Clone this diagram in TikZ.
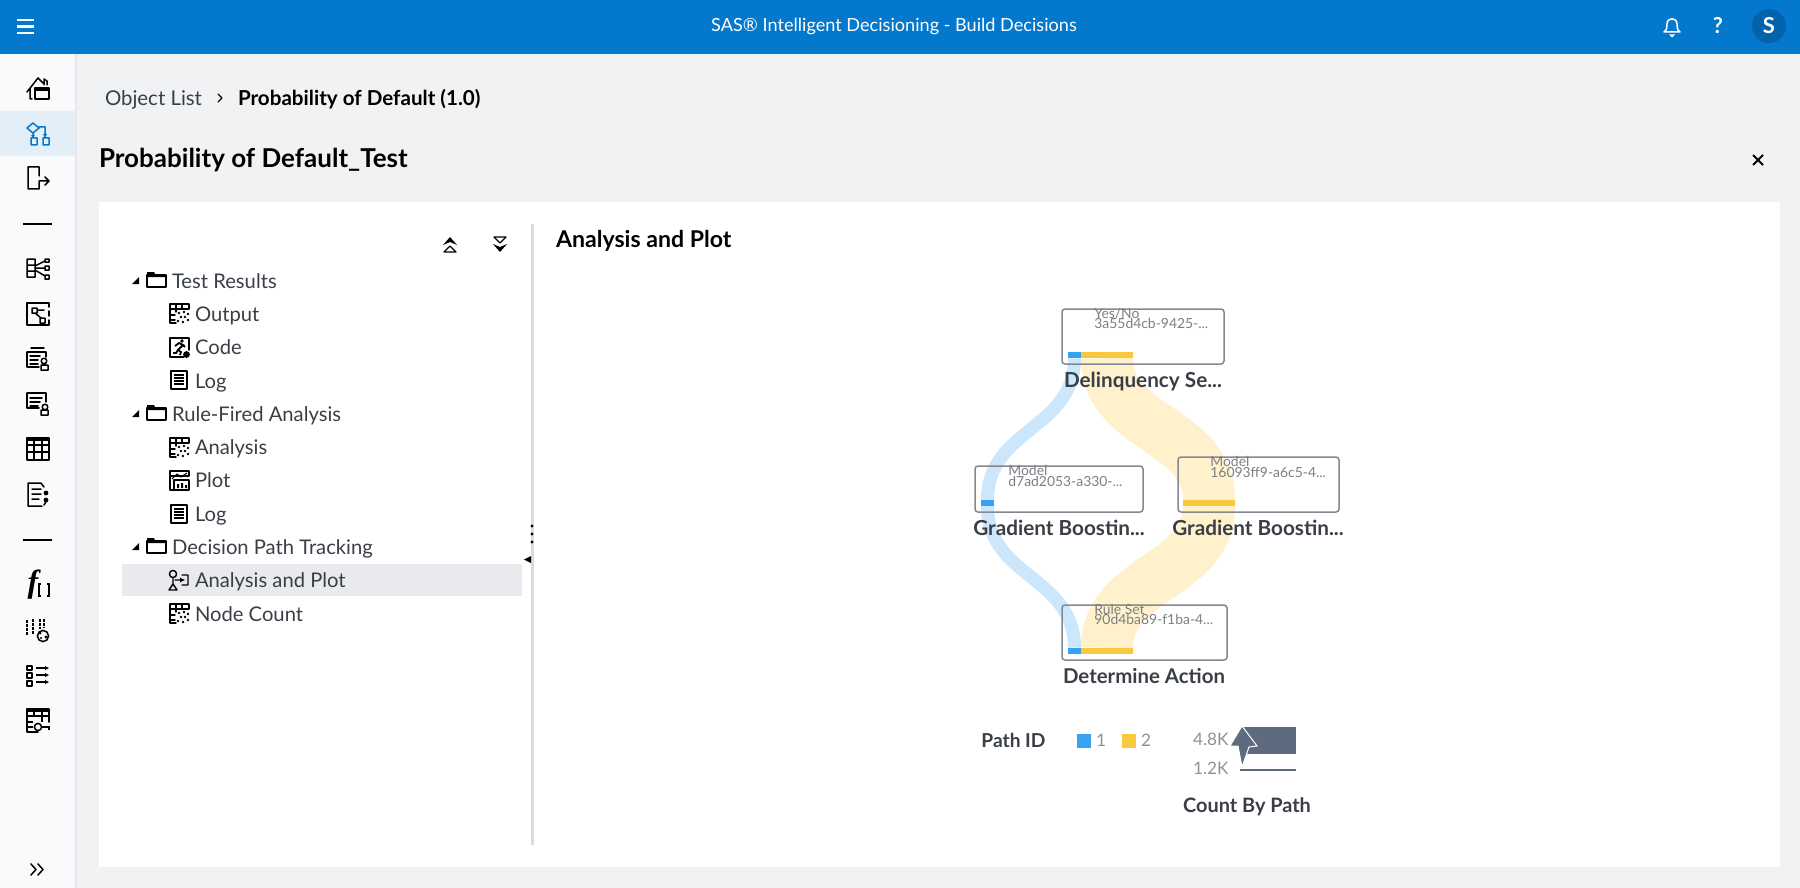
\documentclass[tikz,border=0pt]{standalone}
\usepackage{fontspec}
\setmainfont{Lato}
\usetikzlibrary{calc,arrows.meta}
\definecolor{topblue}{HTML}{0378CD}
\definecolor{avatar}{HTML}{0262AC}
\definecolor{pagebg}{HTML}{F1F2F4}
\definecolor{sidebg}{HTML}{F9FAFC}
\definecolor{sideline}{HTML}{E6E8EB}
\definecolor{sidesel}{HTML}{E3EEF6}
\definecolor{rowsel}{HTML}{E8EAED}
\definecolor{split}{HTML}{D9DBDF}
\definecolor{ink}{HTML}{3A3F47}
\definecolor{softgrey}{HTML}{7C7F85}
\definecolor{legendgrey}{HTML}{8E9196}
\definecolor{boxline}{HTML}{85888D}
\definecolor{pblue}{HTML}{35A2F2}
\definecolor{pyellow}{HTML}{F9C83F}
\definecolor{lblue}{HTML}{CCE7FC}
\definecolor{lyellow}{HTML}{FEF1CB}
\definecolor{slate}{HTML}{5E6B7E}
\tikzset{
  x=0.5pt,y=-0.5pt,
  txt/.style={inner sep=0pt,outer sep=0pt,anchor=base west,text=ink,font=\fontsize{10.1}{12}\selectfont},
  tree/.style={txt},
  head/.style={txt,text=black,font=\fontsize{10.3}{12}\selectfont\bfseries},
  nodelabel/.style={inner sep=0pt,anchor=base,text=ink,font=\fontsize{10.35}{12}\selectfont\bfseries},
  tiny/.style={inner sep=0pt,anchor=base west,text=softgrey,font=\fontsize{6.95}{8}\selectfont},
  legendtxt/.style={inner sep=0pt,anchor=base,text=legendgrey,font=\fontsize{8.6}{11}\selectfont},
  cardbox/.style={draw=boxline,line width=0.75pt,rounded corners=1.5pt,inner sep=0pt},
  barnode/.style={fill=#1,inner sep=0pt,minimum height=3pt},
  band/.style={line width=#1,line cap=butt},
  ic/.style={line width=0.75pt,draw=black,line cap=round,line join=round},
  ict/.style={line width=0.7pt,draw=ink,line cap=round,line join=round},
  dashbar/.style={ic,dash pattern=on 1.5pt off 0.5pt,line cap=butt},
}
\newcommand{\icoFolder}[2]{\begin{scope}[shift={(#1,#2)}]
 \draw[ict,draw=black] (0,3)--(0,15)--(19,15)--(19,3)--cycle; \fill[black] (0,0)--(7,0)--(8.5,3)--(19,3)--(19,5)--(0,5)--cycle;\end{scope}}
\newcommand{\icoGridStar}[2]{\begin{scope}[shift={(#1,#2)}]
 \draw[ict,draw=black] (0,19)--(0,0)--(19,0)--(19,5) (0,5)--(19,5) (0,11)--(5,11) (0,16)--(5,16) (0,19)--(6,19) (6,0)--(6,8) (12,0)--(12,5);
 \foreach \p in {(9,9),(14,8),(18,10),(11,13),(15,13),(18,16),(8,17),(13,18)} \fill[black] \p circle (0.7pt);\end{scope}}
\newcommand{\icoRun}[2]{\begin{scope}[shift={(#1,#2)}]
 \draw[ict,draw=black] (14,19)--(0,19)--(0,0)--(19,0)--(19,12);
 \fill[black] (12,3) circle (0.9pt); \draw[line width=0.9pt] (5,8)--(9,5)--(13,7)--(8,12)--(11,14)--(10,17) (8,12)--(6,15)--(3,15) (13,7)--(15,9);
 \fill[black] (16.5,16.5) circle (1.7pt);\end{scope}}
\newcommand{\icoLog}[2]{\begin{scope}[shift={(#1,#2)}]
 \draw[ict,draw=black,line width=0.9pt] (0,0) rectangle (16,18);
 \foreach \yy in {4,7,10,13} \draw[line width=0.6pt] (3,\yy)--(13,\yy);\end{scope}}
\newcommand{\icoPlot}[2]{\begin{scope}[shift={(#1,#2)}]
 \draw[ict,draw=black] (4,19)--(0,19)--(0,0)--(19,0)--(19,5) (4,9)--(19,9)--(19,19)--(4,19)--cycle (0,5)--(19,5);
 \draw[line width=0.5pt] (2,8)--(7,3)--(11,6)--(17,2);
 \fill[black] (7,13) rectangle (9,17) (11,12) rectangle (13,17) (15,14) rectangle (17,17);\end{scope}}
\newcommand{\icoPath}[2]{\begin{scope}[shift={(#1,#2)}]
 \draw[ict,draw=black] (4,4) circle (1.8pt) (4,14)--(8,20)--(0,20)--cycle (13,5)--(19,5)--(19,15)--(13,15) (4,9)--(4,14) (6,10)--(15,10);
 \fill[black] (15,10)--(11,7.5)--(11,12.5)--cycle;\end{scope}}
\newcommand{\expander}[2]{\fill[black] (#1,#2)--(#1+7,#2-7)--(#1+7,#2)--cycle;}
\begin{document}
\begin{tikzpicture}
\useasboundingbox (0,0) rectangle (1800,888);
\fill[pagebg] (0,0) rectangle (1800,888);
\fill[white] (99,202) rectangle (1780,867);
% top bar
\fill[topblue] (0,0) rectangle (1800,54);
\foreach \yy in {20,26.5,33} \draw[white,line width=1.2pt] (17,\yy)--(34,\yy);
\node[inner sep=0pt,anchor=base,text=white,font=\fontsize{9.06}{12}\selectfont] (apptitle) at (894,32) {SAS® Intelligent Decisioning - Build Decisions};
\draw[white,line width=0.75pt,line join=round] (1664,32) .. controls (1667,30) and (1667,27) .. (1667,24) .. controls (1667,17) and (1677,17) .. (1677,24) .. controls (1677,27) and (1677,30) .. (1680,32) -- cycle;
\fill[white] (1669,34.5) -- (1675,34.5) -- (1672,37.5) -- cycle;
\node[inner sep=0pt,anchor=base,text=white,font=\fontsize{11}{12}\selectfont\bfseries] (help) at (1718,34) {?};
\fill[avatar] (1769,26) circle (8.5pt);
\node[inner sep=0pt,anchor=base,text=white,font=\fontsize{11}{12}\selectfont\bfseries] (avatarS) at (1769,33.5) {S};
% sidebar
\fill[sidebg] (0,54) rectangle (75,888);
\fill[sideline] (75,54) rectangle (77,888);
\fill[sidesel] (0,111) rectangle (75,156);
% home
\draw[ic] (27,92)--(38,78)--(43,83) (44,79)--(44,85) (44,79)--(47,81)--(47,85) (30,88)--(30,99)--(32,99);
\draw[ic] (35,88) rectangle (49,99); \fill[black] (35,88) rectangle (49,91);
% decision (selected)
\draw[ic,draw=topblue] (33,123)--(39,128)--(33,133)--(27,128)--cycle (39,127)--(45,127)--(45,134) (33,133)--(33,136) (31,138) rectangle (37,145) (43,138) rectangle (49,145);
\fill[topblue] (33,138)--(31,135)--(35,135)--cycle (45,138)--(43,134)--(47,134)--cycle;
% exit
\draw[ic] (39,176)--(39,167)--(28,167)--(28,189)--(39,189)--(39,181)--(48,181) (45,177)--(49,181)--(45,185);
% separator
\draw[black,line width=0.75pt] (23,224)--(52,224);
% flow
\draw[ic] (27,259) rectangle (35,277) (27,265)--(35,265) (27,271)--(35,271) (35,268)--(45,268) (35,266)--(45,261) (35,270)--(45,276) (45,259) rectangle (49,262) (45,266) rectangle (49,270) (45,275) rectangle (49,279);
% process
\draw[ic] (49,307)--(49,303)--(27,303)--(27,325)--(49,325)--(49,320) (49,311)--(49,316);
\draw[ic] (32,308) rectangle (37,313) (40,318) rectangle (45,323) (37,310)--(44,310) (35,313)--(41,318);
% doc-person 1
\draw[ic] (31,348)--(44,348) (27,352)--(27,367)--(39,367) (27,352)--(46,352)--(46,357) (30,356)--(40,356) (30,360)--(38,360) (30,364)--(38,364);
\draw[ic] (44,361) circle (1.4pt) (41,365) rectangle (48,370);
% doc-person 2
\draw[ic] (27,393)--(46,393)--(46,402) (27,393)--(27,408)--(39,408) (30,398)--(42,398) (30,402)--(40,402) (30,406)--(38,406);
\draw[ic] (45,407) circle (1.4pt) (41,410) rectangle (48,415);
% table
\draw[ic] (27,438) rectangle (49,460); \fill[black] (27,438) rectangle (49,441);
\draw[ic,line cap=butt] (27,445)--(49,445) (27,452)--(49,452) (34,438)--(34,460) (42,438)--(42,460);
% code doc
\draw[ic] (44,487)--(41,483)--(28,483)--(28,506)--(42,506) (32,489)--(41,489) (32,494)--(41,494) (32,499)--(39,499);
\fill[black] (46,493) circle (1.2pt) (46,500) circle (1.2pt);
\draw[line width=0.8pt,line cap=round] (47,500)--(44,505);
% separator
\draw[black,line width=0.75pt] (23,540)--(52,540);
% f[]
\node[inner sep=0pt,anchor=base,font=\fontsize{16}{16}\selectfont\rmfamily\itshape,text=black] (fx) at (33,592) {\fontspec{Liberation Serif}[Ligatures=TeX]\textbf{f}};
\draw[line width=0.55pt] (41,584)--(39,584)--(39,596)--(41,596) (47,584)--(49,584)--(49,596)--(47,596);
% globe bars
\draw[dashbar] (27,620)--(27,635);
\draw[dashbar] (33,619)--(33,635);
\draw[dashbar] (40,619)--(40,629);
\draw[dashbar] (44,619)--(44,628);
\draw[ic] (43,636) circle (2.8pt); \fill[black] (40,633) circle (0.8pt) (46,637) circle (0.8pt) (41,638) circle (0.6pt);
% list
\draw[ic] (27,666) rectangle (32,670) (27,673) rectangle (32,678) (27,681) rectangle (32,686);
\foreach \yy in {668,675,682} {\draw[line width=0.6pt] (36,\yy)--(46,\yy); \fill[black] (49,\yy)--(45,\yy-2)--(45,\yy+2)--cycle;}
% key table
\draw[ic] (49,722)--(49,709)--(27,709)--(27,732)--(38,732); \fill[black] (27,709) rectangle (49,712);
\draw[ic,line cap=butt] (27,716)--(49,716) (27,722)--(33,722) (27,727)--(33,727) (34,709)--(34,716) (42,709)--(42,722);
\draw[ic] (38,727) circle (1.8pt); \draw[line width=1.2pt] (41,727)--(49,727)--(49,730);
% expand
\draw[ic] (31,864)--(36,869.5)--(31,875) (38,864)--(43,869.5)--(38,875);
% breadcrumbs and headings
\node[txt,font=\fontsize{10.2}{12}\selectfont] (crumb1) at (105,105) {Object List};
\draw[ic,line width=0.65pt] (218,94)--(222,98)--(218,102);
\node[head] (crumb2) at (238,105) {Probability of Default (1.0)};
\node[txt,text=black,font=\fontsize{13}{14}\selectfont\bfseries] (pagetitle) at (99,168) {Probability of Default\_Test};
\draw[black,line width=1pt] (1753,155)--(1763,165) (1753,165)--(1763,155);
\node[txt,text=black,font=\fontsize{11.55}{14}\selectfont\bfseries] (paneltitle) at (556,247) {Analysis and Plot};
% tree tools
\draw[ic,line width=0.6pt] (444,252)--(456,252)--(450,246)--cycle;
\fill[black] (443,245)--(450,237)--(457,245)--(450,242)--cycle;
\draw[ic,line width=0.6pt] (494,237)--(506,237)--(500,243)--cycle;
\fill[black] (493,244)--(500,252)--(507,244)--(500,247)--cycle;
% tree
\fill[rowsel] (122,564) rectangle (522,596);
\expander{132}{284}\expander{132}{417}\expander{132}{550}
\icoFolder{147}{272}\icoFolder{147}{405}\icoFolder{147}{538}
\node[tree] (t1) at (172,288) {Test Results};
\node[tree] (t2) at (172,421) {Rule-Fired Analysis};
\node[tree] (t3) at (172,554) {Decision Path Tracking};
\icoGridStar{170}{304}\node[tree] (i1) at (195,321) {Output};
\icoRun{170}{338}\node[tree] (i2) at (195,354) {Code};
\icoLog{171}{371}\node[tree] (i3) at (195,388) {Log};
\icoGridStar{170}{438}\node[tree] (i4) at (195,454) {Analysis};
\icoPlot{170}{471}\node[tree] (i5) at (195,487) {Plot};
\icoLog{171}{505}\node[tree] (i6) at (195,521) {Log};
\icoPath{169}{570}\node[tree] (i7) at (195,587.5) {Analysis and Plot};
\icoGridStar{170}{604}\node[tree] (i8) at (195,621) {Node Count};
% splitter
\fill[split] (530.5,224) rectangle (533.5,845);
\fill[black] (532,526) circle (0.8pt) (532,534) circle (0.8pt) (532,542) circle (0.8pt);
\fill[black] (524,559.5)--(531,556)--(531,563)--cycle;
% flow anchors
\path (1074.5,355) node[minimum width=6.5pt,minimum height=3pt,inner sep=0pt] (a1) {}
      (1107,355) node[minimum width=26pt,minimum height=3pt,inner sep=0pt] (a2) {}
      (987.5,503) node[minimum width=6.5pt,minimum height=3pt,inner sep=0pt] (b1) {}
      (1209,503) node[minimum width=26pt,minimum height=3pt,inner sep=0pt] (c2) {}
      (1074.5,651) node[minimum width=6.5pt,minimum height=3pt,inner sep=0pt] (d1) {}
      (1107,651) node[minimum width=26pt,minimum height=3pt,inner sep=0pt] (d2) {};
% bands
\draw[band=6.5pt,lblue] (a1.south) .. controls ($(a1.south)+(0,71)$) and ($(b1.north)+(0,-71)$) .. (b1.north) -- (b1.south) .. controls ($(b1.south)+(0,71)$) and ($(d1.north)+(0,-71)$) .. (d1.north);
\draw[band=26pt,lyellow] (a2.south) .. controls ($(a2.south)+(0,71)$) and ($(c2.north)+(0,-71)$) .. (c2.north) -- (c2.south) .. controls ($(c2.south)+(0,71)$) and ($(d2.north)+(0,-71)$) .. (d2.north);
% cards
\node[cardbox,minimum width=81pt,minimum height=27.5pt] (card1) at (1143,336.5) {};
\node[cardbox,minimum width=84pt,minimum height=23pt] (card2) at (1059,489) {};
\node[cardbox,minimum width=80.5pt,minimum height=27.5pt] (card3) at (1258.5,484.5) {};
\node[cardbox,minimum width=82.5pt,minimum height=27.5pt] (card4) at (1144.5,632.5) {};
\node[barnode=pblue,minimum width=6.5pt] at (a1) {};
\node[barnode=pyellow,minimum width=26pt] at (a2) {};
\node[barnode=pblue,minimum width=6.5pt] at (b1) {};
\node[barnode=pyellow,minimum width=26pt] at (c2) {};
\node[barnode=pblue,minimum width=6.5pt] at (d1) {};
\node[barnode=pyellow,minimum width=26pt] at (d2) {};
\node[tiny] (n1a) at (1094,318.5) {Yes/No};
\node[tiny] (n1b) at (1094,328) {3a55d4cb-9425-...};
\node[tiny] (n2a) at (1008,475.5) {Model};
\node[tiny] (n2b) at (1008,486) {d7ad2053-a330-...};
\node[tiny] (n3a) at (1210,466.5) {Model};
\node[tiny] (n3b) at (1210,477) {16093ff9-a6c5-4...};
\node[tiny] (n4a) at (1094,614.5) {Rule Set};
\node[tiny] (n4b) at (1094,624) {90d4ba89-f1ba-4...};
\node[nodelabel] (l1) at (1143,387.5) {Delinquency Se...};
\node[nodelabel] (l2) at (1059,535.5) {Gradient Boostin...};
\node[nodelabel] (l3) at (1258,535.5) {Gradient Boostin...};
\node[nodelabel,font=\fontsize{10.2}{12}\selectfont\bfseries] (l4) at (1144,683.5) {Determine Action};
% legend
\node[nodelabel,anchor=base west,font=\fontsize{9.6}{11}\selectfont\bfseries] (pathid) at (981,747.5) {Path ID};
\fill[pblue] (1077,734) rectangle (1091,748);
\node[legendtxt] (k1) at (1101,746) {1};
\fill[pyellow] (1122,734) rectangle (1136,748);
\node[legendtxt] (k2) at (1146,746) {2};
\node[legendtxt,anchor=base east] (v1) at (1229,745.5) {4.8K};
\node[legendtxt,anchor=base east] (v2) at (1229,774.5) {1.2K};
\fill[slate] (1242,727) rectangle (1296,754);
\fill[slate] (1240,769) rectangle (1296,771);
\filldraw[fill=slate,draw=white,line width=0.5pt,line join=miter] (1242,726)--(1257,746)--(1249,747)--(1242,767)--(1238,746)--(1230,746)--cycle;
\node[nodelabel,font=\fontsize{9.95}{11}\selectfont\bfseries] (cbp) at (1247,812.5) {Count By Path};
\end{tikzpicture}
\end{document}
